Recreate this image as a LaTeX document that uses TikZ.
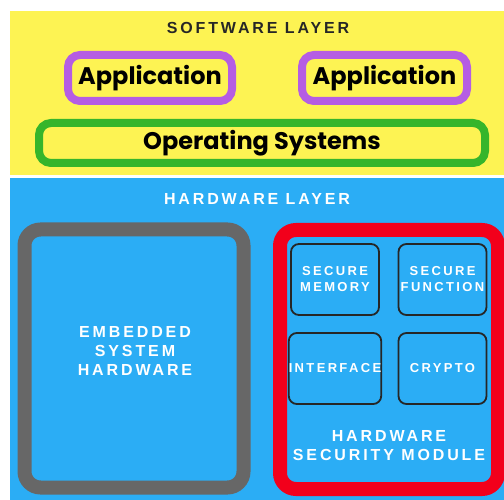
\documentclass[tikz,border=0pt]{standalone}
\usepackage{fontspec}
\setmainfont{Liberation Sans}
\newfontfamily\capsfont[LetterSpace=18]{Liberation Sans}
\newfontfamily\appfont{Poppins}

\definecolor{swyellow}{HTML}{FDF353}
\definecolor{hwblue}{HTML}{2BADF5}
\definecolor{appviolet}{HTML}{B55DE3}
\definecolor{osgreen}{HTML}{36B52B}
\definecolor{hsmred}{HTML}{F2001B}
\definecolor{embgray}{HTML}{676767}

\tikzset{
  layertitle/.style={font=\capsfont\bfseries\fontsize{16}{19}\selectfont},
  swbox/.style={draw, line width=8pt, rounded corners=12pt, inner sep=0pt,
    font=\appfont\bfseries\fontsize{24}{28}\selectfont},
  hwbox/.style={draw, line width=14pt, rounded corners=16pt, inner sep=0pt},
  hwlabel/.style={text=white, align=center,
    font=\capsfont\bfseries\fontsize{16}{19}\selectfont},
  unitbox/.style={draw=black!85, line width=1.8pt, rounded corners=8pt, inner sep=0pt,
    minimum width=88pt, minimum height=71pt, text=white, align=center,
    font=\capsfont\bfseries\fontsize{13}{16}\selectfont}
}

\begin{document}
\begin{tikzpicture}[x=1pt,y=-1pt]
\useasboundingbox (0,0) rectangle (504,500);
% the two layers
\fill[swyellow] (10,11) rectangle (504,175);
\fill[hwblue] (10,178) rectangle (504,500);

\node[layertitle, text=black!85] (swtitle) at (258,28) {SOFTWARE LAYER};
\node[swbox, draw=appviolet, minimum width=164pt, minimum height=46pt] (app1) at (150,78) {Application};
\node[swbox, draw=appviolet, minimum width=165pt, minimum height=46pt] (app2) at (384.5,78) {Application};
\node[swbox, draw=osgreen, minimum width=446pt, minimum height=40pt] (os) at (262,143) {Operating Systems};

\node[layertitle, text=white] (hwtitle) at (257,199) {HARDWARE LAYER};
\node[hwbox, draw=embgray, minimum width=219pt, minimum height=258pt] (emb) at (134,358.5) {};
\node[hwlabel] (emblabel) at (135,351) {EMBEDDED\\SYSTEM\\HARDWARE};
\node[hwbox, draw=hsmred, minimum width=218pt, minimum height=259pt] (hsm) at (389,359.5) {};

\node[unitbox] (mem) at (335,279.5) {SECURE\\MEMORY};
\node[unitbox] (func) at (442.5,279.5) {SECURE\\FUNCTION};
\node[unitbox] (iface) at (335,368.5) {INTERFACE};
\node[unitbox] (crypto) at (442.5,368.5) {CRYPTO};

\node[hwlabel] (hsmlabel) at (389,446) {HARDWARE\\SECURITY MODULE};
\end{tikzpicture}
\end{document}
